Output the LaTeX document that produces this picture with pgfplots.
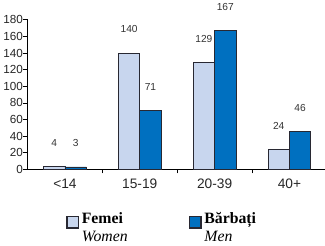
\documentclass[border=0pt]{standalone}
\usepackage{pgfplots}
\pgfplotsset{compat=1.18}
\usepackage{fontspec}
\setmainfont{Liberation Sans}
\newfontfamily\tnr{Liberation Serif}
\newcommand{\lgf}{\tnr\fontsize{15.5}{17.5}\selectfont}
\definecolor{lightb}{RGB}{200,214,238}
\definecolor{darkb}{RGB}{0,112,192}
\definecolor{edge}{RGB}{40,40,50}
\begin{document}
\begin{tikzpicture}
\begin{axis}[
  scale only axis,
  width=292pt, height=147pt,
  ymin=0, ymax=180,
  xmin=-0.5, xmax=3.47,
  axis x line*=bottom, axis y line*=left,
  axis line style={black, line width=0.8pt},
  ytick={0,20,...,180},
  xtick={0.5,1.5,2.5},
  xticklabels={},
  extra x ticks={0,1,2,3},
  extra x tick labels={<14,15-19,20-39,40+},
  extra x tick style={major tick length=0pt},
  tick align=outside,
  major tick length=4pt,
  tick style={black, line width=0.8pt},
  y tick label style={font=\fontsize{11.5}{13}\selectfont, text=black!85, xshift=3pt},
  x tick label style={font=\fontsize{13.5}{15}\selectfont, text=black!85, yshift=-6pt},
  /pgf/number format/assume math mode=true,
  ybar, bar width=21pt,
  nodes near coords,
  every node near coord/.append style={font=\fontsize{10}{12}\selectfont, text=black!80, anchor=south, yshift=16pt},
  legend style={draw=none, fill=none, at={(rel axis cs:0.13,-0.29)}, anchor=north west, legend columns=2,
    inner sep=0pt, outer sep=0pt,
    font=\lgf,
    /tikz/every even column/.append style={column sep=60pt},
    /tikz/every odd column/.append style={column sep=2.5pt},
    nodes={align=left, inner sep=0pt, font=\lgf}},
  legend image code/.code={\draw[#1, line width=1.4pt] (0pt,0pt) rectangle (11.5pt,11.5pt);},
  legend cell align=left,
]
\addplot[fill=lightb, draw=edge, line width=0.8pt, bar shift=-10.5pt] coordinates {(0,4) (1,140) (2,129) (3,24)};
\addplot[fill=darkb, draw=edge, line width=0.8pt, bar shift=10.5pt] coordinates {(0,3) (1,71) (2,167) (3,46)};
\legend{{\lgf\textbf{Femei}}\\{\lgf\textit{Women}}, {\lgf\textbf{Bărbați}}\\{\lgf\textit{Men}}}
\coordinate (topref) at (rel axis cs:0,1);
\end{axis}
\path (topref) ++(0,18pt) coordinate (pad);
\path (current bounding box.south) ++(0,-2pt) coordinate (padb);
\end{tikzpicture}
\end{document}
